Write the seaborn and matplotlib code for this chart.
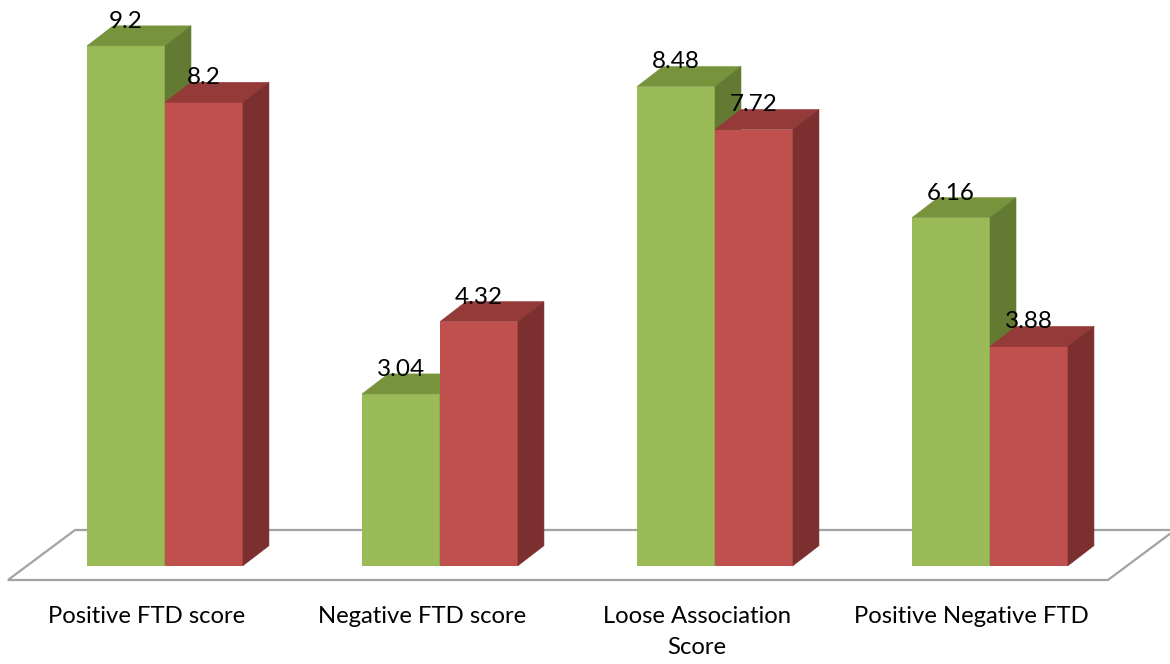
import matplotlib
matplotlib.use("Agg")
import matplotlib.pyplot as plt
import seaborn as sns
import pandas as pd
from matplotlib.patches import Polygon

# chart data
categories = ["Positive FTD score", "Negative FTD score",
              "Loose Association\nScore", "Positive Negative FTD"]
groups = ["Group 1", "Group 2"]
group1_values = [9.2, 3.04, 8.48, 6.16]
group2_values = [8.2, 4.32, 7.72, 3.88]

front_colors = ["#9BBB59", "#C0504D"]
top_colors = ["#77933C", "#943A38"]
side_colors = ["#627A32", "#7B2F2F"]

df = pd.DataFrame({
    "category": categories * 2,
    "score": group1_values + group2_values,
    "group": [groups[0]] * 4 + [groups[1]] * 4,
})

sns.set_theme(style="white")
plt.rcParams["font.family"] = ["Lato", "DejaVu Sans"]

fig = plt.figure(figsize=(11.7, 6.64), dpi=100)
ax = fig.add_axes([0, 0, 1, 1])

sns.barplot(data=df, x="category", y="score", hue="group", order=categories,
            hue_order=groups, palette=front_colors, saturation=1,
            width=0.567, dodge=True, linewidth=0, legend=False, ax=ax)

ax.set_xlim(-0.6, 3.6545)
ax.set_ylim(-1.740, 10.012)
ax.axis("off")

# pseudo-3D depth offset (data units)
dx, dy = 0.0945, 0.354

# floor parallelogram
floor = Polygon([(-0.571, -0.253), (3.429, -0.253), (3.673, 0.632), (-0.327, 0.632)],
                closed=True, facecolor="white", edgecolor="#A3A3A3",
                linewidth=1.6, zorder=0.5)
ax.add_patch(floor)

for gi, container in enumerate(ax.containers):
    z = 2 + gi
    for bar in container:
        x0 = bar.get_x()
        w = bar.get_width()
        h = bar.get_height()
        x1 = x0 + w
        bar.set_zorder(z)
        top = Polygon([(x0, h), (x1, h), (x1 + dx, h + dy), (x0 + dx, h + dy)],
                      closed=True, facecolor=top_colors[gi],
                      edgecolor=top_colors[gi], linewidth=0.4, zorder=z)
        side = Polygon([(x1, 0), (x1, h), (x1 + dx, h + dy), (x1 + dx, dy)],
                       closed=True, facecolor=side_colors[gi],
                       edgecolor=side_colors[gi], linewidth=0.4, zorder=z)
        ax.add_patch(top)
        ax.add_patch(side)
        ax.text(x0 + w / 2, h + 0.32, f"{h:g}", ha="center", va="baseline",
                fontsize=17.5, color="black", zorder=10)

# category labels under the floor
for i, name in enumerate(categories):
    ax.text(i - 0.067, -0.72, name, ha="center", va="top", fontsize=17.2,
            color="black", linespacing=1.55, zorder=10)

fig.savefig("out.png", dpi=100)
